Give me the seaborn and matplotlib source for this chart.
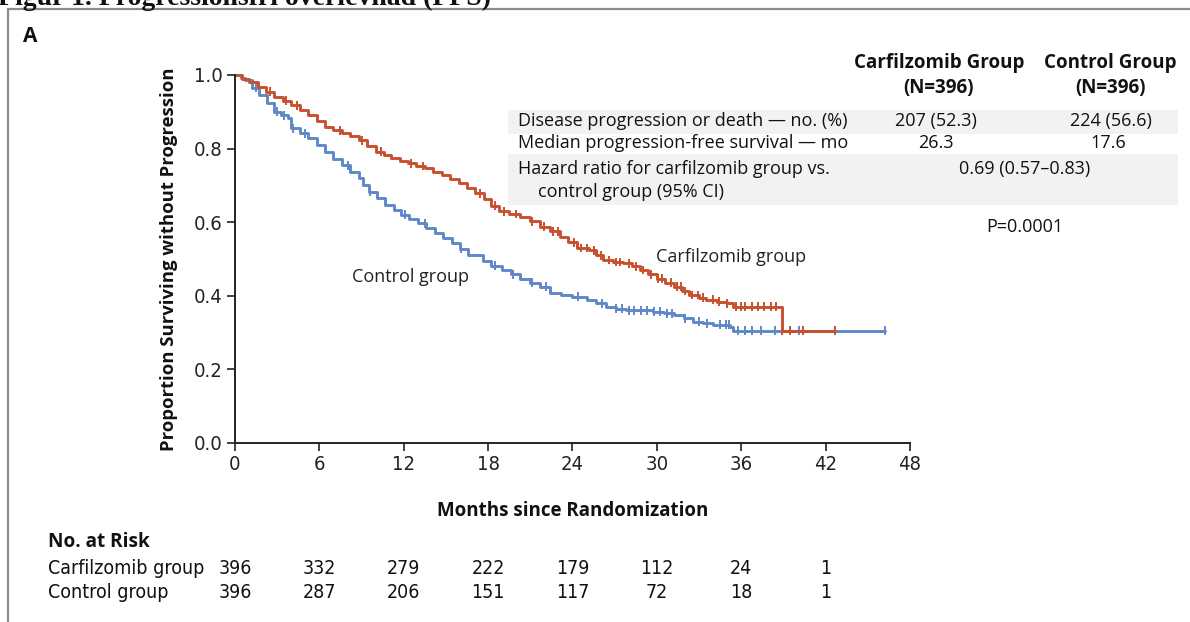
import numpy as np
import pandas as pd
import matplotlib
matplotlib.use("Agg")
import matplotlib.pyplot as plt
from matplotlib.patches import Rectangle
from matplotlib.lines import Line2D
import matplotlib.transforms as mtrans
import seaborn as sns

# ---------------- data ----------------
carf_t = [0, 0.5, 1.0, 1.6, 2.2, 2.8, 3.4, 4.0, 4.6, 5.2, 5.8, 6.4, 7.0, 7.6, 8.2, 8.8,
          9.4, 10.0, 10.6, 11.1, 11.7, 12.3, 12.9, 13.5, 14.1, 14.7, 15.3, 15.9, 16.5,
          17.1, 17.7, 18.2, 18.8, 19.5, 20.3, 21.0, 21.7, 22.4, 23.1, 23.7, 24.3, 25.2,
          25.7, 26.2, 26.9, 27.6, 28.2, 28.8, 29.4, 30.0, 30.6, 31.2, 31.8, 32.3, 33.0,
          33.5, 34.3, 35.0, 35.4, 38.9]
carf_s = [1.0, 0.99, 0.98, 0.968, 0.955, 0.941, 0.93, 0.918, 0.905, 0.891, 0.875, 0.86,
          0.85, 0.842, 0.833, 0.823, 0.808, 0.792, 0.782, 0.774, 0.767, 0.76, 0.753, 0.746,
          0.737, 0.728, 0.718, 0.706, 0.693, 0.679, 0.662, 0.645, 0.63, 0.622, 0.615, 0.602,
          0.588, 0.575, 0.561, 0.545, 0.53, 0.524, 0.51, 0.497, 0.492, 0.488, 0.48, 0.47,
          0.458, 0.447, 0.436, 0.425, 0.413, 0.402, 0.395, 0.389, 0.384, 0.38, 0.37, 0.305]
carf_end = 42.7

ctrl_t = [0, 0.4, 0.7, 1.2, 1.7, 2.3, 2.8, 3.3, 3.8, 4.0, 4.6, 5.2, 5.8, 6.4, 7.0, 7.6,
          8.2, 8.8, 9.1, 9.5, 10.1, 10.7, 11.3, 11.8, 12.4, 13.0, 13.6, 14.2, 14.8, 15.4,
          16.0, 16.6, 17.6, 18.2, 19.0, 19.6, 20.3, 21.0, 21.7, 22.4, 23.2, 24.0, 25.0,
          25.7, 26.4, 27.1, 27.8, 29.7, 30.5, 31.2, 31.9, 32.6, 33.3, 34.0, 35.2, 35.4]
ctrl_s = [1.0, 0.993, 0.986, 0.966, 0.946, 0.923, 0.9, 0.89, 0.882, 0.855, 0.842, 0.828,
          0.81, 0.792, 0.773, 0.755, 0.737, 0.719, 0.70, 0.683, 0.665, 0.647, 0.633, 0.62,
          0.608, 0.597, 0.583, 0.57, 0.556, 0.543, 0.527, 0.511, 0.495, 0.482, 0.47, 0.458,
          0.447, 0.436, 0.425, 0.407, 0.402, 0.398, 0.389, 0.38, 0.37, 0.365, 0.361, 0.357,
          0.352, 0.348, 0.339, 0.33, 0.325, 0.321, 0.316, 0.305]
ctrl_end = 46.2

carf_cens = [2.5, 3.6, 4.4, 7.5, 9.0, 10.4, 12.5, 13.4, 17.4, 18.5, 19.1, 20.0, 21.1, 22.0,
             22.6, 23.0, 24.1, 24.6, 25.0, 25.5, 26.0, 26.6, 27.1, 27.4, 28.0, 28.5, 29.0,
             29.6, 30.1, 30.4, 31.0, 31.4, 31.7, 32.0, 32.5, 32.9, 33.3, 34.0, 34.4, 35.0,
             35.6, 36.0, 36.3, 36.8, 37.2, 37.6, 38.1, 38.5, 38.9, 39.5, 40.4, 42.7]
ctrl_cens = [1.5, 3.0, 3.5, 4.1, 5.0, 8.0, 9.6, 12.1, 13.5, 16.1, 18.5, 19.8, 21.1, 22.1,
             24.4, 26.1, 27.1, 27.5, 28.0, 28.4, 28.9, 29.3, 29.8, 30.2, 30.7, 31.1, 32.0,
             33.0, 33.6, 34.5, 34.9, 35.1, 35.8, 36.3, 36.8, 37.4, 38.4, 38.9, 40.1, 46.2]

x_ticks = [0, 6, 12, 18, 24, 30, 36, 42, 48]
y_ticks = [0.0, 0.2, 0.4, 0.6, 0.8, 1.0]
risk_times = [0, 6, 12, 18, 24, 30, 36, 42]
carf_risk = [396, 332, 279, 222, 179, 112, 24, 1]
ctrl_risk = [396, 287, 206, 151, 117, 72, 18, 1]

RED = "#c9502f"
BLUE = "#5f88c8"

# ---------------- build frames ----------------
def curve_frame(t, s, end, name):
    return pd.DataFrame({"months": list(t) + [end], "surv": list(s) + [s[-1]], "group": name})

def cens_frame(t, s, cens, name):
    idx = np.searchsorted(np.array(t), np.array(cens), side="right") - 1
    return pd.DataFrame({"months": cens, "surv": np.array(s)[idx], "group": name})

curves = pd.concat([curve_frame(ctrl_t, ctrl_s, ctrl_end, "Control group"),
                    curve_frame(carf_t, carf_s, carf_end, "Carfilzomib group")])
cens = pd.concat([cens_frame(ctrl_t, ctrl_s, ctrl_cens, "Control group"),
                  cens_frame(carf_t, carf_s, carf_cens, "Carfilzomib group")])
pal = {"Control group": BLUE, "Carfilzomib group": RED}
order = ["Control group", "Carfilzomib group"]

# ---------------- style ----------------
sns.set_style("ticks")
plt.rcParams["font.family"] = ["DejaVu Sans"]
TBL = dict(family=["Open Sans", "DejaVu Sans"], fontstretch="normal")
COND = dict(family=["DejaVu Sans"], fontstretch="condensed")
CONDB = dict(family=["Open Sans", "DejaVu Sans"], fontstretch="condensed",
             fontweight="bold")

W, H = 1190, 622
fig = plt.figure(figsize=(W / 100, H / 100), dpi=100)

def fx(x):
    return x / W

def fy(y):
    return 1 - y / H

ax = fig.add_axes([fx(235), fy(443), fx(910) - fx(235), fy(75) - fy(443)])
ax.set_facecolor("none")

sns.lineplot(data=curves, x="months", y="surv", hue="group", hue_order=order, palette=pal,
             drawstyle="steps-post", estimator=None, sort=False, legend=False,
             linewidth=2.1, ax=ax, clip_on=False)
sns.scatterplot(data=cens, x="months", y="surv", hue="group", hue_order=order, palette=pal,
                marker="|", s=40, linewidth=1.4, legend=False, ax=ax, clip_on=False)

ax.set_xlim(0, 48)
ax.set_ylim(0, 1.0)
ax.set_xticks(x_ticks)
ax.set_yticks(y_ticks)
ax.set_yticklabels([f"{v:.1f}" for v in y_ticks])
ax.tick_params(axis="both", direction="out", length=6, width=1.2, colors="#222222",
               labelsize=14.5, pad=3)
for lab in ax.get_xticklabels() + ax.get_yticklabels():
    lab.set_fontstretch("condensed")
for sp in ["top", "right"]:
    ax.spines[sp].set_visible(False)
for sp in ["left", "bottom"]:
    ax.spines[sp].set_linewidth(1.4)
    ax.spines[sp].set_color("#222222")
ax.set_xlabel("Months since Randomization", fontsize=13.5, labelpad=19, color="#111111",
              **CONDB)
ax.set_ylabel("Proportion Surviving without Progression", fontsize=13.3, labelpad=11,
              color="#111111", **CONDB)

ax.text(12.45, 0.45, "Control group", fontsize=13, ha="center", va="center",
        color="#222222", **TBL)
ax.text(35.3, 0.505, "Carfilzomib group", fontsize=13, ha="center",
        va="center", color="#222222", **TBL)

# ---------------- summary table ----------------
fig.add_artist(Rectangle((fx(508), fy(134)), fx(1178) - fx(508), fy(110) - fy(134),
                         transform=fig.transFigure, facecolor="#f1f3f3", edgecolor="none",
                         zorder=0))
fig.add_artist(Rectangle((fx(508), fy(205)), fx(1178) - fx(508), fy(154) - fy(205),
                         transform=fig.transFigure, facecolor="#f1f3f3", edgecolor="none",
                         zorder=0))

TS = 13
hdr = dict(fontsize=13.5, ha="center", va="center", color="#111111", **CONDB)
fig.text(fx(939), fy(63), "Carfilzomib Group", **hdr)
fig.text(fx(939), fy(88), "(N=396)", **hdr)
fig.text(fx(1110), fy(63), "Control Group", **hdr)
fig.text(fx(1110), fy(88), "(N=396)", **hdr)

row = dict(fontsize=TS, va="center", color="#111111", **TBL)
fig.text(fx(518), fy(121), "Disease progression or death \u2014 no. (%)", ha="left", **row)
fig.text(fx(936), fy(121), "207 (52.3)", ha="center", **row)
fig.text(fx(1111), fy(121), "224 (56.6)", ha="center", **row)
fig.text(fx(518), fy(143), "Median progression-free survival \u2014 mo", ha="left", **row)
fig.text(fx(936), fy(143), "26.3", ha="center", **row)
fig.text(fx(1108), fy(143), "17.6", ha="center", **row)
fig.text(fx(518), fy(169), "Hazard ratio for carfilzomib group vs.", ha="left", **row)
fig.text(fx(538), fy(192), "control group (95% CI)", ha="left", **row)
fig.text(fx(1025), fy(169), "0.69 (0.57\u20130.83)", ha="center", **row)
fig.text(fx(1025), fy(227), "P=0.0001", ha="center", **row)

# ---------------- number at risk ----------------
RS = 14
fig.text(fx(48), fy(542), "No. at Risk", fontsize=13.7, ha="left", va="center",
         color="#111111", **CONDB)
fig.text(fx(48), fy(568), "Carfilzomib group", fontsize=RS, ha="left", va="center",
         color="#111111", **COND)
fig.text(fx(48), fy(593), "Control group", fontsize=RS, ha="left", va="center",
         color="#111111", **COND)
tr = mtrans.blended_transform_factory(ax.transData, fig.transFigure)
for t, a, b in zip(risk_times, carf_risk, ctrl_risk):
    ax.text(t, fy(568), str(a), transform=tr, fontsize=RS, ha="center", va="center",
            color="#111111", clip_on=False, **COND)
    ax.text(t, fy(593), str(b), transform=tr, fontsize=RS, ha="center", va="center",
            color="#111111", clip_on=False, **COND)

# ---------------- frame, panel letter, title ----------------
fig.add_artist(Line2D([fx(8), fx(8)], [fy(9), 0], transform=fig.transFigure,
                      color="#8c8c8c", linewidth=1.6))
fig.add_artist(Line2D([fx(8), 1], [fy(9), fy(9)], transform=fig.transFigure,
                      color="#8c8c8c", linewidth=1.6))
fig.text(fx(23), fy(36), "A", fontsize=15, ha="left", va="center", color="#111111",
         **CONDB)
fig.text(fx(-2), fy(5), "Figur 1. Progressionsfri \u00f6verlevnad (PFS)",
         family=["Liberation Serif", "DejaVu Serif"], fontsize=20, fontweight="bold",
         ha="left", va="baseline", color="#111111")

fig.savefig("out.png", dpi=100)
